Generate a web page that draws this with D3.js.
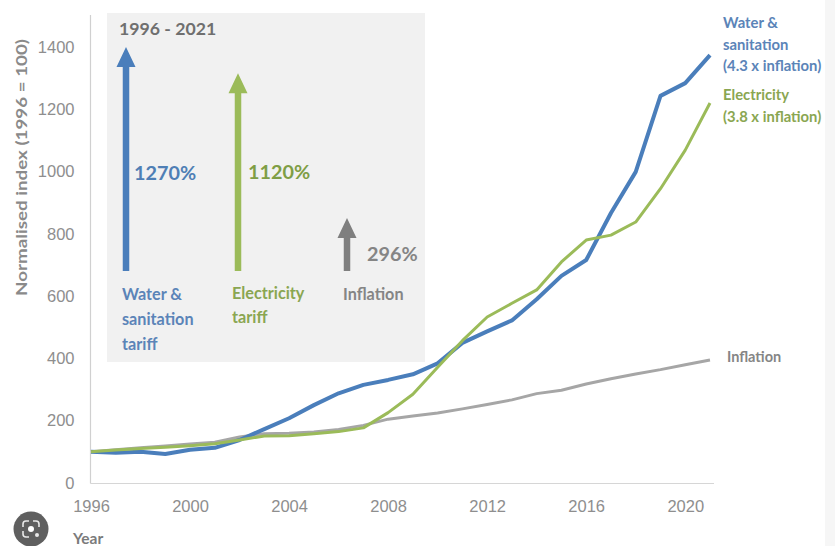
<!DOCTYPE html>
<html>
<head>
<meta charset="utf-8">
<script src="https://cdn.jsdelivr.net/npm/d3@7"></script>
<style>
  html, body { margin: 0; padding: 0; background: #fff; }
  svg { display: block; font-family: Lato, "Open Sans", sans-serif; }
  .tick text { font-size: 16.5px; fill: #8e8e8e; }
</style>
</head>
<body>
<svg id="chart" width="835" height="546"></svg>
<script>
// Tariff and price indices, 1996 = 100
const years = d3.range(1996, 2022);
const water = [100, 97, 100, 93, 107, 113, 138, 173, 208, 250, 288, 315, 331, 349, 384, 450, 487, 522, 590, 665, 716, 867, 999, 1243, 1284, 1374];
const electricity = [100, 106, 111, 115, 120, 126, 138, 151, 152, 158, 165, 177, 226, 285, 372, 457, 533, 577, 620, 710, 780, 796, 838, 945, 1069, 1220];
const inflation = [100, 107, 113, 119, 125, 131, 148, 158, 160, 164, 172, 185, 205, 215, 225, 238, 252, 267, 287, 298, 318, 335, 350, 364, 380, 395];

// Cumulative growth shown by the arrows in the inset panel
const growthLabels = ["Water & sanitation tariff", "Electricity tariff", "Inflation"];
const growthValues = [1270, 1120, 296];

const yTicks = [0, 200, 400, 600, 800, 1000, 1200, 1400];
const xTicks = [1996, 2000, 2004, 2008, 2012, 2016, 2020];

const BLUE = "#4a7ebb", GREEN = "#9bbb59", GREY = "#a6a6a6";
const BLUE_TEXT = "#5b84b8", GREEN_TEXT = "#8aa651", GREY_TEXT = "#858585";

const svg = d3.select("#chart");

const x = d3.scaleLinear().domain([1996, 2021]).range([91, 710]);
const y = d3.scaleLinear().domain([0, 1400]).range([483, 47]);

// Soft strip along the right edge of the page
svg.append("rect").attr("x", 825).attr("y", 0).attr("width", 10).attr("height", 546).attr("fill", "#f6f6f6");

// Inset panel
svg.append("rect").attr("x", 107).attr("y", 13).attr("width", 318).attr("height", 349).attr("fill", "#f1f1f1");

// Axes
const yAxis = d3.axisLeft(y).tickValues(yTicks).tickSize(0).tickPadding(16).tickFormat(d3.format("d"));
const xAxis = d3.axisBottom(x).tickValues(xTicks).tickSize(0).tickPadding(17).tickFormat(d3.format("d"));

const gy = svg.append("g").attr("transform", "translate(90.5,0)").call(yAxis);
gy.select(".domain").remove();
const gx = svg.append("g").attr("transform", "translate(0,483.5)").call(xAxis);
gx.select(".domain").remove();

svg.append("line").attr("x1", 90.5).attr("x2", 90.5).attr("y1", 15).attr("y2", 483.5).attr("stroke", "#d0d0d0").attr("stroke-width", 1.2);
svg.append("line").attr("x1", 90.5).attr("x2", 714).attr("y1", 483.5).attr("y2", 483.5).attr("stroke", "#d6d6d6").attr("stroke-width", 1.2);

// Axis titles
svg.append("text")
  .attr("transform", "translate(27,296) rotate(-90)")
  .attr("font-size", 15.5).attr("font-weight", 700).attr("fill", "#8a8a8a")
  .attr("textLength", 257).attr("lengthAdjust", "spacingAndGlyphs")
  .text("Normalised index (1996 = 100)");
svg.append("text").attr("x", 73).attr("y", 544)
  .attr("font-size", 15.5).attr("font-weight", 700).attr("fill", "#7b7b7b").text("Year");

// Series lines, with inflation underneath
const line = d3.line().x((d, i) => x(years[i])).y(d => y(d));
[[inflation, GREY, 3], [water, BLUE, 4], [electricity, GREEN, 3]].forEach(([values, colour, width]) => {
  svg.append("path").datum(values)
    .attr("d", line).attr("fill", "none")
    .attr("stroke", colour).attr("stroke-width", width)
    .attr("stroke-linejoin", "round");
});

// Multi-line text helper
function label(px, lines, startY, step, colour, size, weight) {
  const t = svg.append("text").attr("font-size", size).attr("font-weight", weight).attr("fill", colour);
  lines.forEach((s, i) => t.append("tspan").attr("x", px).attr("y", startY + i * step).text(s));
}

// End-of-line labels
label(723, ["Water &", "sanitation", "(4.3 x inflation)"], 28, 21.7, BLUE_TEXT, 14.8, 700);
label(723, ["Electricity", "(3.8 x inflation)"], 100, 21.7, GREEN_TEXT, 14.8, 700);
label(727, ["Inflation"], 362, 0, GREY_TEXT, 14.5, 700);

// Inset title
label(119, ["1996 - 2021"], 35, 0, "#6f6f6f", 17.7, 700);

// Growth arrows: length follows the percentage
const arrowBase = 270;
const arrowLen = d3.scaleLinear().domain([0, 1270]).range([0, 223]);
const arrowX = [126, 238, 347];
const shaftWidth = 6.5, headHalf = 9.5, headLen = 20;
const arrowColours = [BLUE, GREEN, "#7f7f7f"];
growthValues.forEach((v, i) => {
  const tip = arrowBase - arrowLen(v);
  const cx = arrowX[i];
  const p = d3.path();
  p.moveTo(cx - shaftWidth / 2, arrowBase + 1);
  p.lineTo(cx - shaftWidth / 2, tip + headLen);
  p.lineTo(cx - headHalf, tip + headLen);
  p.lineTo(cx, tip);
  p.lineTo(cx + headHalf, tip + headLen);
  p.lineTo(cx + shaftWidth / 2, tip + headLen);
  p.lineTo(cx + shaftWidth / 2, arrowBase + 1);
  p.closePath();
  svg.append("path").attr("d", p.toString()).attr("fill", arrowColours[i]);
});

// Percentages beside the arrows
const pctX = [134, 248, 367];
const pctY = [180, 179, 261];
const pctColours = ["#4f7fb5", "#7f9e45", "#858585"];
growthValues.forEach((v, i) => {
  svg.append("text").attr("x", pctX[i]).attr("y", pctY[i])
    .attr("font-size", 19.8).attr("font-weight", 700).attr("fill", pctColours[i])
    .text(v + "%");
});

// Arrow captions
label(122, ["Water &", "sanitation", "tariff"], 300, 25, BLUE_TEXT, 16.2, 700);
label(232, ["Electricity", "tariff"], 299, 24, GREEN_TEXT, 16.2, 700);
label(343, [growthLabels[2]], 300, 0, GREY_TEXT, 16.2, 700);

// Round overlay button in the lower-left corner
const btn = svg.append("g").attr("transform", "translate(31,529)");
btn.append("circle").attr("r", 17.5).attr("fill", "#5f5f5f");
btn.append("circle").attr("r", 3).attr("fill", "#fff");
btn.append("path")
  .attr("d", "M-8,-2V-5Q-8,-8 -5,-8H-2M2,-8H5Q8,-8 8,-5V-2M-8,2V5Q-8,8 -5,8H-2")
  .attr("fill", "none").attr("stroke", "#e8e8e8").attr("stroke-width", 1.6);
btn.append("circle").attr("cx", 6).attr("cy", 6).attr("r", 2).attr("fill", "#e8e8e8");
</script>
</body>
</html>
